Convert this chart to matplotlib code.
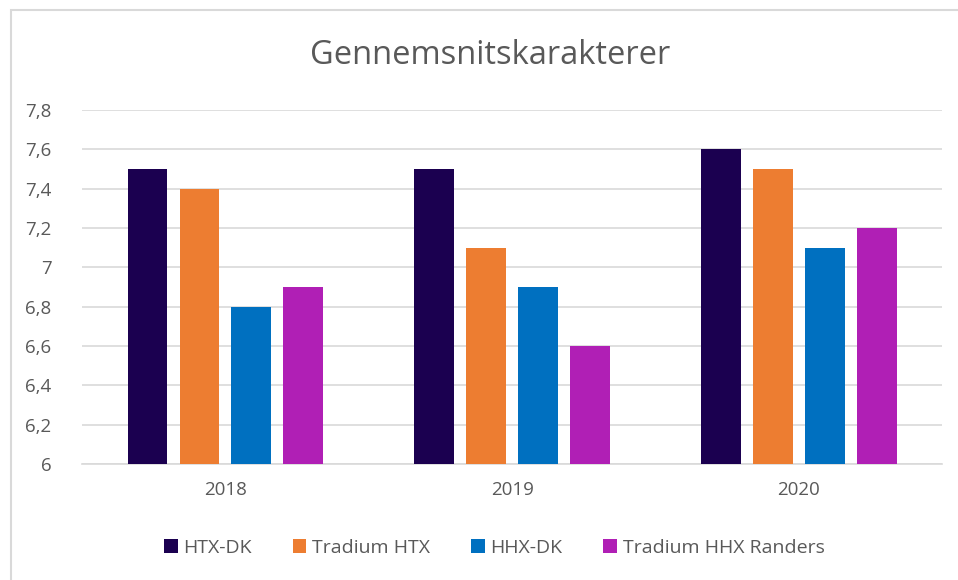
import numpy as np
import matplotlib.pyplot as plt
from matplotlib.patches import Rectangle

plt.rcParams['font.family'] = ['Open Sans', 'DejaVu Sans']

years = ['2018', '2019', '2020']
series = ['HTX-DK', 'Tradium HTX', 'HHX-DK', 'Tradium HHX Randers']
htx_dk = [7.5, 7.5, 7.6]
tradium_htx = [7.4, 7.1, 7.5]
hhx_dk = [6.8, 6.9, 7.1]
tradium_hhx = [6.9, 6.6, 7.2]
values = [htx_dk, tradium_htx, hhx_dk, tradium_hhx]
colors = ['#1b0050', '#ed7d31', '#0070c0', '#b01fb5']
yticks = [6, 6.2, 6.4, 6.6, 6.8, 7, 7.2, 7.4, 7.6, 7.8]

txt = '#595959'

fig = plt.figure(figsize=(9.58, 5.8), dpi=100)
fig.patches.append(Rectangle((11 / 958, -0.01), 1.0, 1 - 10 / 580 + 0.01,
                             transform=fig.transFigure, fill=False,
                             edgecolor='#d9d9d9', linewidth=1.5))
ax = fig.add_axes([0.0856, 0.2, 0.898, 0.6103])

x = np.arange(len(years))
width = 0.139
step = 0.181
for i, (name, vals, c) in enumerate(zip(series, values, colors)):
    ax.bar(x + (i - 1.5) * step, np.array(vals) - 6, width, bottom=6,
           color=c, label=name, zorder=3)

ax.set_xlim(-0.5, 2.5)
ax.set_ylim(6, 7.8)
ax.set_yticks(yticks)
ax.set_yticklabels([('%g' % v).replace('.', ',') for v in yticks])
ax.set_xticks(x)
ax.set_xticklabels(years)
ax.grid(axis='y', color='#d9d9d9', linewidth=1.2, zorder=0)
for s in ['top', 'right', 'left']:
    ax.spines[s].set_visible(False)
ax.spines['bottom'].set_color('#d9d9d9')
ax.spines['bottom'].set_linewidth(1.2)
ax.tick_params(axis='both', length=0, labelsize=13.5, labelcolor=txt)
ax.tick_params(axis='y', pad=22)
ax.tick_params(axis='x', pad=12)

fig.text(0.512, 0.905, 'Gennemsnitskarakterer', ha='center', va='center',
         fontsize=23.5, color=txt)

handles, labels = ax.get_legend_handles_labels()
fig.legend(handles, labels, loc='center', bbox_to_anchor=(0.516, 0.055),
           ncol=4, frameon=False, fontsize=14, labelcolor=txt,
           handlelength=0.7, handleheight=0.7, handletextpad=0.3,
           columnspacing=2.1)

fig.savefig('out.png', dpi=100)
